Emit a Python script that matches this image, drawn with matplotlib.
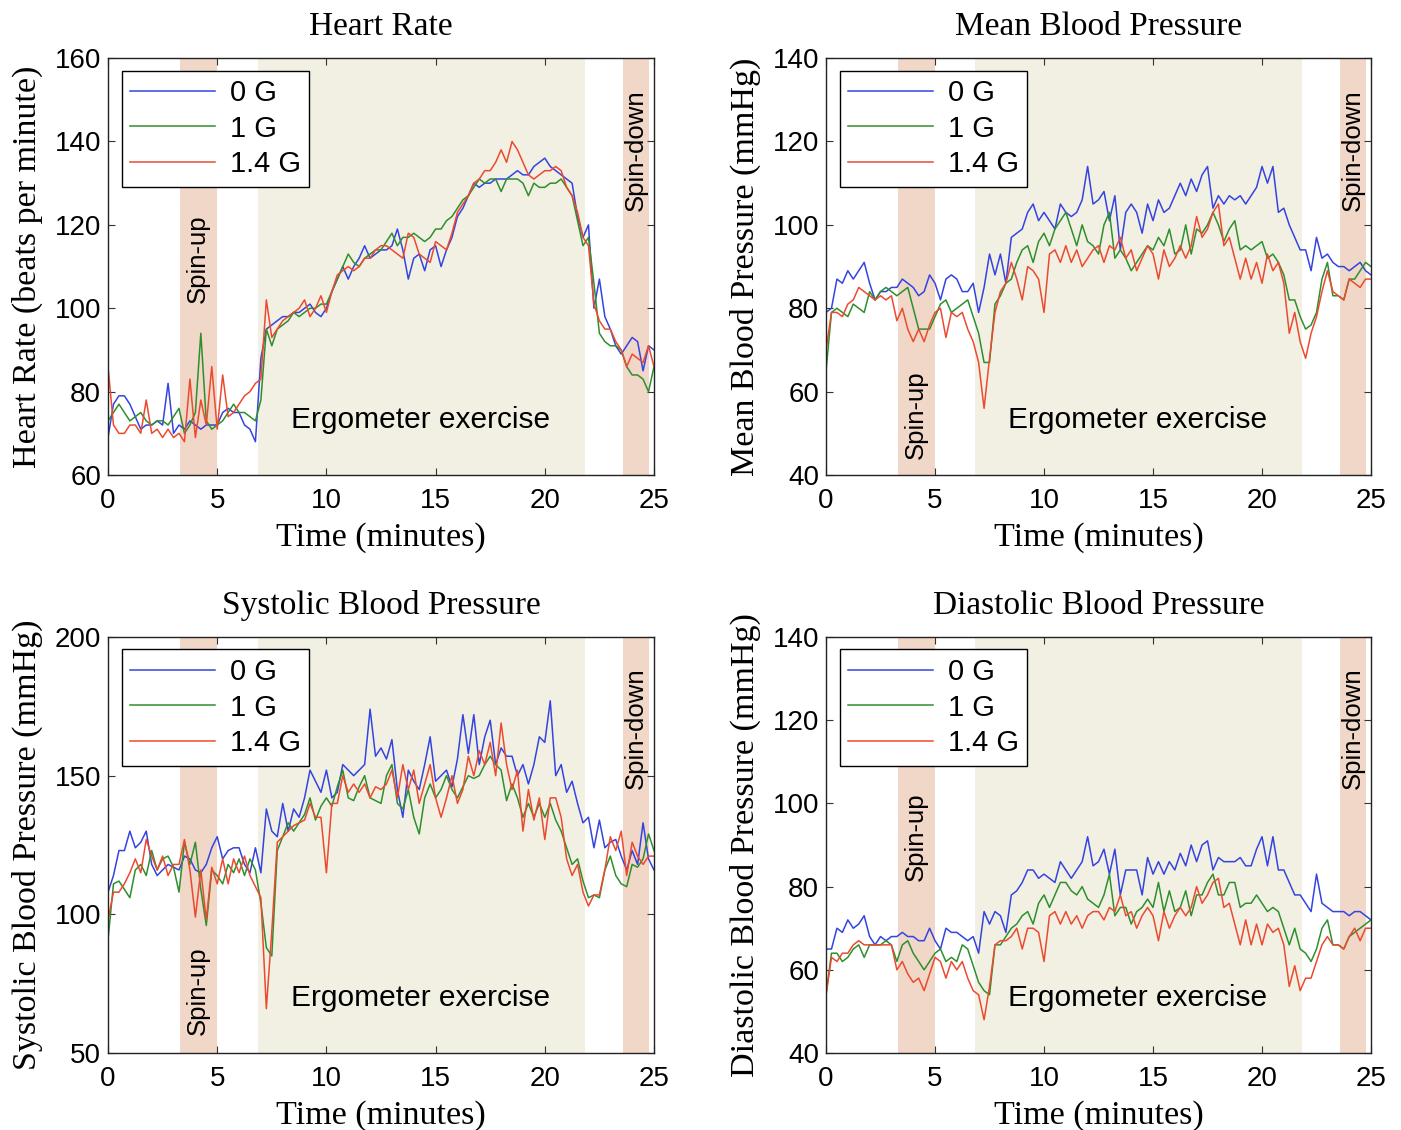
import numpy as np
import matplotlib.pyplot as plt

plt.rcParams['font.family'] = ['Liberation Sans', 'DejaVu Sans']

# sample times (minutes)
time = np.arange(0, 25.01, 0.25)

# Heart rate (beats per minute)
hr_0g = [69, 77, 79, 79, 77, 74, 71, 72, 72, 73, 72, 82, 70, 72, 71, 73,
         72, 71, 72, 72, 72, 75, 76, 75, 75, 72, 71, 68, 88, 95, 96, 97,
         98, 98, 99, 99, 100, 101, 99, 98, 100, 104, 107, 110, 107, 110, 112, 115,
         112, 113, 114, 114, 115, 119, 114, 107, 112, 113, 109, 114, 115, 110, 114, 117,
         122, 124, 127, 130, 129, 130, 130, 131, 131, 131, 132, 133, 132, 132, 134, 135,
         136, 134, 133, 132, 131, 130, 122, 117, 120, 100, 107, 98, 95, 91, 89, 91,
         93, 92, 85, 91, 90]
hr_1g = [73, 75, 77, 75, 73, 74, 75, 73, 72, 73, 73, 72, 74, 76, 70, 72,
         75, 94, 73, 71, 72, 73, 75, 77, 75, 75, 74, 73, 78, 95, 91, 95,
         96, 97, 99, 98, 99, 100, 100, 101, 101, 104, 107, 110, 113, 111, 110, 112,
         113, 114, 114, 116, 118, 115, 117, 117, 118, 117, 116, 117, 119, 119, 121, 122,
         124, 126, 127, 129, 131, 130, 131, 131, 128, 131, 131, 131, 130, 127, 130, 129,
         129, 130, 130, 131, 129, 127, 121, 115, 117, 106, 94, 92, 91, 91, 90, 86,
         84, 84, 83, 80, 86]
hr_14g = [86, 72, 70, 70, 72, 72, 70, 78, 70, 71, 69, 71, 69, 70, 68, 83,
          69, 78, 72, 86, 71, 84, 74, 75, 77, 79, 80, 82, 83, 102, 93, 95,
          97, 98, 99, 100, 102, 98, 100, 103, 99, 104, 108, 109, 110, 109, 110, 112,
          112, 114, 115, 115, 114, 113, 112, 118, 117, 113, 112, 111, 116, 115, 114, 118,
          123, 125, 127, 130, 131, 133, 133, 135, 138, 135, 140, 138, 135, 132, 131, 132,
          133, 133, 134, 133, 129, 127, 123, 117, 115, 101, 97, 95, 95, 92, 90, 86,
          89, 88, 87, 91, 86]

# Mean blood pressure (mmHg)
mbp_0g = [79, 80, 87, 86, 89, 87, 89, 91, 86, 82, 84, 84, 85, 85, 87, 86,
          85, 83, 84, 88, 86, 82, 87, 88, 87, 84, 84, 86, 79, 85, 93, 88,
          93, 86, 97, 98, 99, 103, 105, 101, 103, 101, 99, 105, 103, 102, 103, 106,
          114, 105, 106, 108, 101, 107, 94, 103, 105, 103, 98, 105, 101, 106, 103, 104,
          107, 110, 107, 111, 108, 112, 114, 104, 107, 105, 107, 106, 107, 105, 107, 109,
          114, 110, 114, 103, 104, 100, 97, 94, 94, 89, 97, 92, 93, 91, 90, 90,
          89, 90, 91, 89, 88]
mbp_1g = [65, 79, 80, 79, 78, 81, 80, 79, 84, 82, 84, 85, 84, 83, 84, 85,
          80, 75, 75, 75, 78, 81, 82, 79, 80, 81, 82, 78, 74, 67, 67, 81,
          83, 86, 87, 91, 94, 95, 91, 96, 98, 95, 99, 101, 103, 99, 95, 100,
          96, 95, 93, 100, 103, 92, 94, 92, 89, 91, 93, 95, 94, 97, 95, 99,
          93, 94, 100, 93, 99, 98, 100, 103, 100, 96, 99, 101, 94, 95, 94, 95,
          96, 92, 93, 91, 88, 82, 82, 78, 75, 76, 79, 87, 91, 83, 83, 82,
          87, 87, 89, 91, 90]
mbp_14g = [70, 79, 79, 78, 81, 82, 85, 84, 83, 82, 83, 82, 83, 77, 80, 75,
           72, 75, 72, 76, 79, 80, 73, 79, 78, 79, 75, 72, 67, 56, 68, 79,
           84, 86, 91, 87, 82, 90, 89, 87, 79, 93, 94, 91, 95, 91, 94, 90,
           92, 94, 95, 91, 95, 94, 97, 92, 94, 89, 92, 95, 93, 87, 94, 90,
           92, 95, 92, 95, 102, 97, 99, 103, 105, 95, 97, 92, 87, 92, 87, 91,
           86, 93, 89, 91, 86, 74, 79, 72, 68, 74, 78, 84, 89, 84, 83, 82,
           87, 86, 85, 87, 87]

# Systolic blood pressure (mmHg)
sbp_0g = [108, 114, 123, 123, 130, 124, 126, 130, 118, 114, 116, 118, 117, 116, 121, 120,
          116, 115, 118, 124, 128, 120, 123, 124, 124, 118, 115, 124, 115, 138, 130, 128,
          140, 130, 138, 135, 142, 152, 148, 144, 152, 142, 144, 154, 152, 150, 152, 154,
          174, 157, 160, 156, 163, 145, 135, 152, 148, 145, 154, 164, 148, 150, 152, 146,
          156, 172, 158, 172, 154, 164, 170, 154, 160, 157, 157, 150, 154, 147, 154, 164,
          162, 177, 150, 154, 144, 148, 140, 133, 135, 124, 134, 124, 126, 127, 121, 116,
          123, 118, 133, 120, 116]
sbp_1g = [91, 111, 112, 109, 106, 116, 118, 114, 123, 116, 120, 121, 117, 108, 126, 118,
          126, 109, 96, 116, 114, 111, 118, 115, 120, 114, 120, 116, 104, 88, 85, 123,
          128, 133, 130, 133, 136, 142, 134, 139, 142, 139, 146, 152, 142, 141, 146, 150,
          142, 141, 140, 150, 154, 140, 138, 145, 135, 129, 142, 147, 142, 145, 150, 145,
          142, 146, 150, 149, 150, 154, 157, 154, 152, 141, 147, 142, 135, 140, 135, 140,
          135, 140, 134, 130, 124, 118, 120, 112, 106, 107, 106, 116, 121, 114, 111, 110,
          118, 117, 120, 129, 123]
sbp_14g = [98, 108, 108, 111, 115, 120, 115, 127, 121, 116, 121, 114, 118, 118, 127, 116,
           99, 116, 98, 117, 111, 120, 111, 120, 115, 121, 114, 110, 106, 66, 94, 126,
           128, 130, 132, 133, 134, 140, 135, 135, 115, 140, 140, 150, 144, 147, 144, 147,
           142, 146, 145, 147, 152, 142, 154, 145, 152, 140, 147, 154, 142, 135, 142, 150,
           140, 145, 157, 150, 159, 154, 162, 150, 169, 154, 145, 152, 130, 145, 134, 142,
           127, 142, 142, 135, 120, 114, 118, 108, 103, 107, 107, 116, 128, 123, 130, 114,
           126, 121, 118, 121, 121]

# Diastolic blood pressure (mmHg)
dbp_0g = [65, 65, 70, 69, 72, 70, 71, 73, 68, 66, 68, 67, 68, 68, 69, 68,
          68, 67, 67, 70, 67, 65, 70, 69, 69, 68, 67, 68, 64, 74, 71, 74,
          73, 69, 78, 79, 81, 84, 84, 82, 83, 82, 81, 86, 84, 82, 84, 86,
          92, 85, 86, 89, 83, 89, 78, 84, 84, 84, 78, 87, 83, 86, 83, 86,
          84, 88, 85, 90, 86, 90, 91, 84, 87, 86, 86, 86, 87, 85, 85, 89,
          92, 85, 92, 84, 84, 81, 78, 78, 76, 74, 83, 76, 75, 74, 74, 74,
          73, 74, 74, 73, 72]
dbp_1g = [54, 64, 64, 62, 63, 65, 66, 63, 66, 66, 66, 67, 66, 62, 66, 67,
          64, 62, 60, 62, 64, 65, 62, 63, 62, 66, 65, 61, 57, 55, 54, 66,
          66, 68, 70, 71, 73, 74, 71, 76, 78, 75, 78, 81, 81, 79, 78, 80,
          77, 76, 75, 78, 83, 73, 75, 75, 71, 74, 75, 77, 75, 81, 74, 79,
          74, 75, 79, 73, 78, 78, 81, 83, 78, 78, 81, 81, 75, 76, 76, 78,
          76, 74, 75, 74, 70, 66, 70, 65, 64, 62, 65, 70, 72, 66, 66, 65,
          68, 69, 70, 71, 72]
dbp_14g = [54, 63, 62, 64, 64, 66, 67, 66, 66, 66, 66, 66, 66, 60, 62, 59,
           57, 58, 55, 59, 63, 62, 58, 62, 60, 62, 58, 55, 54, 48, 56, 66,
           67, 67, 68, 70, 65, 70, 70, 69, 62, 73, 74, 71, 74, 71, 73, 70,
           73, 74, 74, 72, 75, 74, 78, 73, 74, 70, 73, 75, 73, 67, 74, 70,
           73, 75, 73, 75, 80, 76, 78, 81, 82, 75, 76, 71, 66, 72, 66, 71,
           66, 71, 69, 70, 66, 56, 61, 55, 58, 58, 62, 66, 68, 66, 66, 65,
           68, 70, 67, 70, 70]

labels = ['0 G', '1 G', '1.4 G']
colors = ['#3444e0', '#2e8f2e', '#ec4a30']

# phases of the experiment (minutes)
spin_up = (3.3, 5.0)
exercise = (6.85, 21.85)
spin_down = (23.6, 24.75)

panels = [
    ('Heart Rate', 'Heart Rate (beats per minute)', (60, 160), np.arange(60, 161, 20),
     [hr_0g, hr_1g, hr_14g], 0.52),
    ('Mean Blood Pressure', 'Mean Blood Pressure (mmHg)', (40, 140), np.arange(40, 141, 20),
     [mbp_0g, mbp_1g, mbp_14g], 0.145),
    ('Systolic Blood Pressure', 'Systolic Blood Pressure (mmHg)', (50, 200), np.arange(50, 201, 50),
     [sbp_0g, sbp_1g, sbp_14g], 0.15),
    ('Diastolic Blood Pressure', 'Diastolic Blood Pressure (mmHg)', (40, 140), np.arange(40, 141, 20),
     [dbp_0g, dbp_1g, dbp_14g], 0.52),
]

positions = [
    [0.0771, 0.5796, 0.3897, 0.3690],
    [0.5896, 0.5796, 0.3890, 0.3690],
    [0.0771, 0.0681, 0.3897, 0.3682],
    [0.5896, 0.0681, 0.3890, 0.3682],
]

serif = 'Liberation Serif'

fig = plt.figure(figsize=(14.01, 11.3), dpi=100)

for (title, ylabel, ylim, yticks, series, spin_y), pos in zip(panels, positions):
    ax = fig.add_axes(pos)

    # shaded phases
    ax.axvspan(*spin_up, color='#f0d7c7', lw=0, zorder=0)
    ax.axvspan(*exercise, color='#f2f0e2', lw=0, zorder=0)
    ax.axvspan(*spin_down, color='#f0d7c7', lw=0, zorder=0)

    for vals, lab, col in zip(series, labels, colors):
        ax.plot(time, vals, color=col, lw=1.1, label=lab, zorder=2)

    ax.text(14.3, 0.132, 'Ergometer exercise', transform=ax.get_xaxis_transform(),
            ha='center', va='center', fontsize=21.5)
    ax.text(4.12, spin_y, 'Spin-up', transform=ax.get_xaxis_transform(),
            ha='center', va='center', rotation=90, fontsize=18.5)
    ax.text(24.15, 0.78, 'Spin-down', transform=ax.get_xaxis_transform(),
            ha='center', va='center', rotation=90, fontsize=18.5)

    ax.set_xlim(0, 25)
    ax.set_ylim(*ylim)
    ax.set_xticks(np.arange(0, 26, 5))
    ax.set_yticks(yticks)
    ax.tick_params(direction='in', top=True, right=True, length=5, width=0.8,
                   labelsize=20, color='#333333')
    ax.tick_params(axis='x', pad=9)
    ax.tick_params(axis='y', pad=5)
    for sp in ax.spines.values():
        sp.set_linewidth(1.0)
        sp.set_color('#222222')

    ax.set_title(title, fontsize=24, family=serif, pad=16.5)
    ax.set_xlabel('Time (minutes)', fontsize=24.5, family=serif, labelpad=6)
    ax.set_ylabel(ylabel, fontsize=24.5, family=serif, labelpad=8)

    leg = ax.legend(loc='upper left', bbox_to_anchor=(0.025, 0.97), fontsize=21,
                    fancybox=False, framealpha=1, edgecolor='black',
                    handlelength=2.9, handletextpad=0.5, labelspacing=0.25,
                    borderpad=0.3, borderaxespad=0)
    leg.get_frame().set_linewidth(1.0)
    leg.set_zorder(5)

fig.savefig('out.png', dpi=100)
